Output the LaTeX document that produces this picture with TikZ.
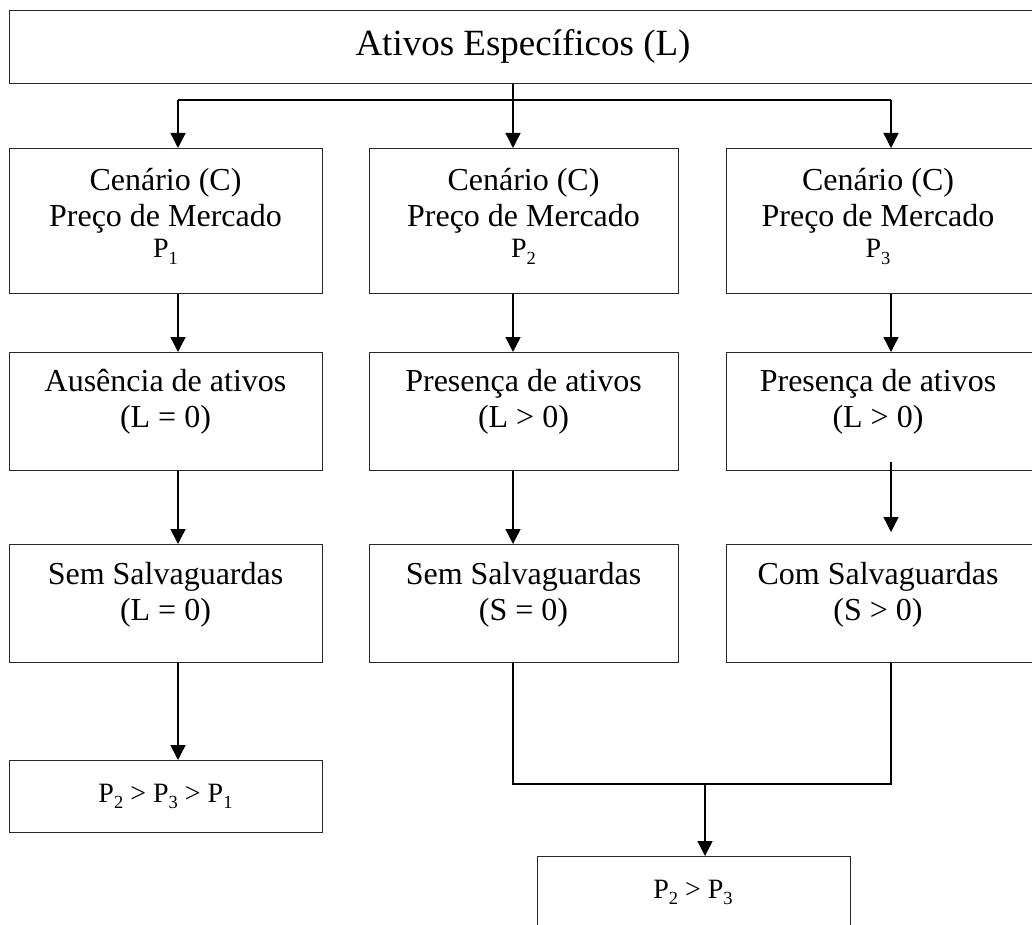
\documentclass[tikz,border=0pt]{standalone}
\usepackage{fontspec}
\setmainfont{Liberation Serif}
\usetikzlibrary{arrows.meta}
\newcommand{\sbs}[1]{\raisebox{-0.22em}{\fontsize{18.5}{20}\selectfont #1}}
\begin{document}
\begin{tikzpicture}[x=1pt,y=-1pt,
  box/.style={draw=black!85,line width=1pt,fill=white,rectangle,inner sep=0pt,anchor=north west},
  txt/.style={align=center,inner sep=0pt,anchor=north,font=\fontsize{32}{36}\selectfont},
  small/.style={inner sep=0pt,anchor=base,font=\fontsize{28}{32}\selectfont},
  con/.style={line width=1.4pt,black},
  arr/.style={con,-{Triangle[width=15pt,length=15pt]}}]
\clip (0,0) rectangle (1032,925);
\fill[white] (0,0) rectangle (1032,925);
% boxes
\node[box,minimum width=1029pt,minimum height=73pt] (top) at (9,10) {};
\node[box,minimum width=313pt,minimum height=145pt] (r1a) at (9,148) {};
\node[box,minimum width=309pt,minimum height=145pt] (r1b) at (369,148) {};
\node[box,minimum width=310pt,minimum height=145pt] (r1c) at (726,148) {};
\node[box,minimum width=313pt,minimum height=118pt] (r2a) at (9,352) {};
\node[box,minimum width=309pt,minimum height=118pt] (r2b) at (369,352) {};
\node[box,minimum width=310pt,minimum height=118pt] (r2c) at (726,352) {};
\node[box,minimum width=313pt,minimum height=118pt] (r3a) at (9,544) {};
\node[box,minimum width=309pt,minimum height=118pt] (r3b) at (369,544) {};
\node[box,minimum width=310pt,minimum height=118pt] (r3c) at (726,544) {};
\node[box,minimum width=313pt,minimum height=72pt] (bl) at (9,760) {};
\node[box,minimum width=313pt,minimum height=90pt] (bm) at (537,856) {};
% texts
\node[inner sep=0pt,anchor=base,font=\fontsize{37}{40}\selectfont] (topt) at (523,56) {Ativos Específicos (L)};
\node[txt] (r1at) at (165.5,168) {Cenário (C)\\Preço de Mercado};
\node[txt] (r1bt) at (523.5,168) {Cenário (C)\\Preço de Mercado};
\node[txt] (r1ct) at (878,168) {Cenário (C)\\Preço de Mercado};
\node[small] (p1) at (165.5,258) {P\sbs{1}};
\node[small] (p2) at (523.5,258) {P\sbs{2}};
\node[small] (p3) at (878,258) {P\sbs{3}};
\node[txt] (r2at) at (165.5,369) {Ausência de ativos\\(L = 0)};
\node[txt] (r2bt) at (523.5,369) {Presença de ativos\\(L > 0)};
\node[txt] (r2ct) at (878,369) {Presença de ativos\\(L > 0)};
\node[txt] (r3at) at (165.5,562) {Sem Salvaguardas\\(L = 0)};
\node[txt] (r3bt) at (523.5,562) {Sem Salvaguardas\\(S = 0)};
\node[txt] (r3ct) at (878,562) {Com Salvaguardas\\(S > 0)};
\node[small] (blt) at (165.5,802) {P\sbs{2} > P\sbs{3} > P\sbs{1}};
\node[small] (bmt) at (693,898) {P\sbs{2} > P\sbs{3}};
% connector columns
\coordinate (xa) at (178,0);
\coordinate (xb) at (513,0);
\coordinate (xc) at (891,0);
\coordinate (xd) at (705,0);
\coordinate (bus) at (0,100);
\coordinate (bus2) at (0,784);
% top distribution
\draw[con] (top.south -| xb) -- (bus -| xb);
\draw[con] (bus -| xa) -- (bus -| xc);
\draw[arr] (bus -| xa) -- (r1a.north -| xa);
\draw[arr] (bus -| xb) -- (r1b.north -| xb);
\draw[arr] (bus -| xc) -- (r1c.north -| xc);
% row1 -> row2
\draw[arr] (r1a.south -| xa) -- (r2a.north -| xa);
\draw[arr] (r1b.south -| xb) -- (r2b.north -| xb);
\draw[arr] (r1c.south -| xc) -- (r2c.north -| xc);
% row2 -> row3
\draw[arr] (r2a.south -| xa) -- (r3a.north -| xa);
\draw[arr] (r2b.south -| xb) -- (r3b.north -| xb);
\draw[arr] ([yshift=9pt]r2c.south -| xc) -- ([yshift=12pt]r3c.north -| xc);
% row3 -> results
\draw[arr] (r3a.south -| xa) -- (bl.north -| xa);
\draw[con] (r3b.south -| xb) -- (bus2 -| xb) -- (bus2 -| xc) -- (r3c.south -| xc);
\draw[arr] (bus2 -| xd) -- (bm.north -| xd);
\end{tikzpicture}
\end{document}
